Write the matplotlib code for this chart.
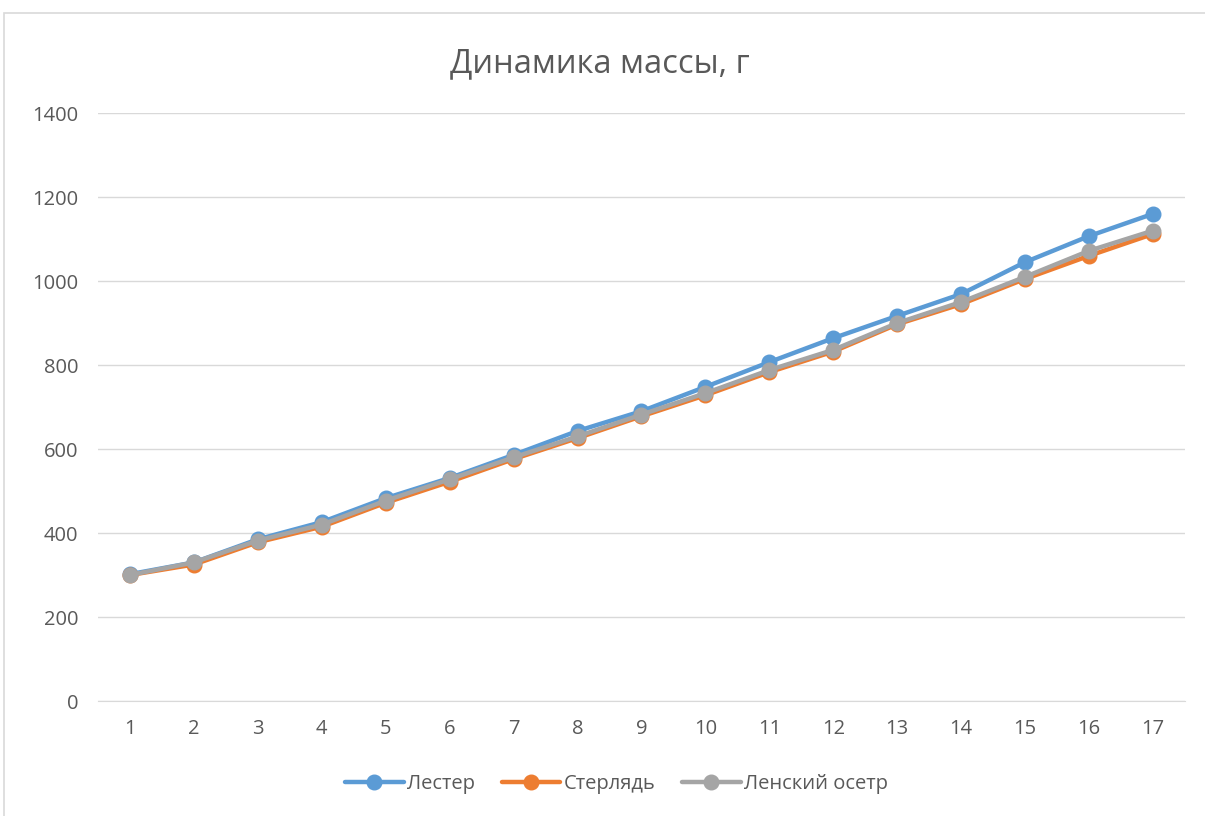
import numpy as np
import matplotlib as mpl
mpl.use("Agg")
import matplotlib.pyplot as plt
from matplotlib.patches import Rectangle

# data
days = list(range(1, 18))
lester = [302, 330, 385, 426, 483, 531, 586, 643, 690, 748, 807, 864, 917, 969, 1045, 1107, 1160]
sterlyad = [300, 325, 378, 415, 472, 522, 576, 626, 678, 728, 783, 832, 897, 945, 1005, 1060, 1112]
lensky = [300, 330, 382, 420, 477, 528, 580, 630, 682, 733, 788, 836, 900, 950, 1010, 1072, 1120]
names = ['Лестер', 'Стерлядь', 'Ленский осетр']
colors = ['#5B9BD5', '#ED7D31', '#A5A5A5']
yticks = [0, 200, 400, 600, 800, 1000, 1200, 1400]

plt.rcParams['font.family'] = ['Open Sans', 'DejaVu Sans']

fig = plt.figure(figsize=(12.05, 8.16), dpi=100)
ax = fig.add_axes([0.0813, 0.1409, 0.9021, 0.7206])

# chart border
fig.patches.append(Rectangle((4 / 1205, -0.05), 1.2, 1 - 13 / 816 + 0.05,
                             transform=fig.transFigure, fill=False,
                             edgecolor='#d9d9d9', linewidth=1.2))

for vals, name, col in zip([lester, sterlyad, lensky], names, colors):
    ax.plot(days, vals, '-o', color=col, lw=3.2, markersize=10.5, label=name,
            solid_capstyle='round', solid_joinstyle='round')

ax.set_xlim(0.5, 17.5)
ax.set_ylim(0, 1400)
ax.set_yticks(yticks)
ax.set_xticks(days)
ax.grid(axis='y', color='#d9d9d9', lw=1)
ax.set_axisbelow(True)
for s in ['top', 'right', 'left']:
    ax.spines[s].set_visible(False)
ax.spines['bottom'].set_color('#d9d9d9')
ax.tick_params(axis='both', length=0, labelsize=14.5, labelcolor='#595959')
ax.tick_params(axis='x', pad=13)
ax.tick_params(axis='y', pad=14)

fig.text(0.4975, 1 - 64 / 816, 'Динамика массы, г', ha='center', va='center',
         fontsize=23.5, color='#595959')

ax.legend(loc='center', bbox_to_anchor=(0.477, -0.141), ncol=3, frameon=False,
          fontsize=14.5, labelcolor='#595959', handlelength=2.9, handletextpad=0.15,
          columnspacing=1.35)

fig.savefig('out.png', dpi=100)
